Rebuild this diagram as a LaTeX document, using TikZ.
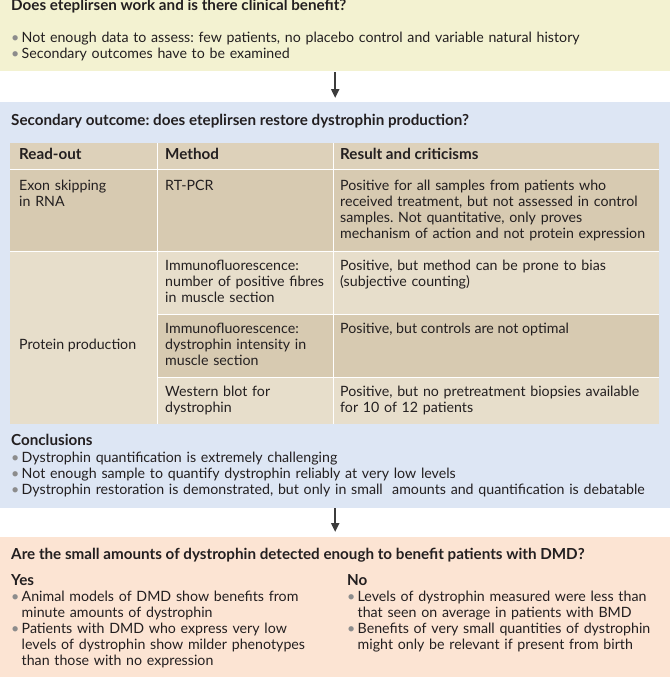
\documentclass[tikz,border=0pt]{standalone}
\usepackage{fontspec}
\setmainfont{Lato}
\usetikzlibrary{positioning,arrows.meta}
\frenchspacing

\definecolor{clinbg}{HTML}{F3F2D1}
\definecolor{dysbg}{HTML}{DDE6F4}
\definecolor{benbg}{HTML}{FCE4D3}
\definecolor{headbg}{HTML}{DDD1BA}
\definecolor{darkrow}{HTML}{D7CAB1}
\definecolor{lightrow}{HTML}{E7DECB}
\definecolor{ink}{HTML}{231F20}
\definecolor{dotgray}{HTML}{8C8C8C}
\definecolor{arrowgray}{HTML}{3C3C3C}

% bullet point with hanging indent, \nl breaks inside a point
\newcommand{\pnt}[1]{\hangindent=10.5pt\hangafter=1\noindent\makebox[10.5pt][l]{\textcolor{dotgray}{\textbullet}}#1\par}
\newcommand{\nl}{\hfil\break}

\tikzset{
  panel/.style={rectangle, anchor=north west, inner sep=0pt, minimum width=670pt},
  cell/.style={rectangle, anchor=north west, inner sep=0pt},
  sep/.style={white, line width=1.2pt},
  txt/.style={anchor=base west, inner sep=0pt, align=left, text=ink, font=\fontsize{14.2}{16}\selectfont},
  hd/.style={txt, font=\fontsize{15.2}{16}\selectfont\bfseries},
  flow/.style={-{Triangle[width=8pt,length=9pt]}, line width=2pt, arrowgray},
}

\begin{document}
\begin{tikzpicture}[x=1pt, y=-1pt]
  \useasboundingbox (0,0) rectangle (670,685);

  % clinical benefit panel
  \node[panel, fill=clinbg, minimum height=71pt] (clin) at (0,0) {};
  \node[hd] (clinq) at (11,11) {Does eteplirsen work and is there clinical benefit?};
  \node[txt, text width=650pt] (clinpts) at (11,43)
    {\pnt{Not enough data to assess: few patients, no placebo control and variable natural history}%
     \pnt{Secondary outcomes have to be examined}};

  % dystrophin panel
  \node[panel, fill=dysbg, minimum height=406pt] (dys) at (0,102) {};
  \node[hd] (dysq) at (11,125) {Secondary outcome: does eteplirsen restore dystrophin production?};

  % table cells
  \node[cell, fill=headbg, minimum width=147pt, minimum height=26pt] (ro) at (10,143) {};
  \node[cell, fill=headbg, minimum width=176pt, minimum height=26pt] (me) at (157,143) {};
  \node[cell, fill=headbg, minimum width=326pt, minimum height=26pt] (rc) at (333,143) {};
  \node[cell, fill=darkrow, minimum width=147pt, minimum height=82pt] (ex) at (10,169) {};
  \node[cell, fill=darkrow, minimum width=176pt, minimum height=82pt] (rt) at (157,169) {};
  \node[cell, fill=darkrow, minimum width=326pt, minimum height=82pt] (rr) at (333,169) {};
  \node[cell, fill=lightrow, minimum width=147pt, minimum height=173pt] (pp) at (10,251) {};
  \node[cell, fill=lightrow, minimum width=176pt, minimum height=63pt] (if1) at (157,251) {};
  \node[cell, fill=lightrow, minimum width=326pt, minimum height=63pt] (ir1) at (333,251) {};
  \node[cell, fill=darkrow, minimum width=176pt, minimum height=63pt] (if2) at (157,314) {};
  \node[cell, fill=darkrow, minimum width=326pt, minimum height=63pt] (ir2) at (333,314) {};
  \node[cell, fill=lightrow, minimum width=176pt, minimum height=47pt] (wb) at (157,377) {};
  \node[cell, fill=lightrow, minimum width=326pt, minimum height=47pt] (wr) at (333,377) {};

  % white rules between cells
  \draw[sep] (ro.south west) -- (rc.south east);
  \draw[sep] (ex.south west) -- (rr.south east);
  \draw[sep] (if1.south west) -- (ir1.south east);
  \draw[sep] (if2.south west) -- (ir2.south east);
  \draw[sep] (ro.north east) -- (pp.south east);
  \draw[sep] (me.north east) -- (wb.south east);

  % table texts
  \node[hd, xshift=9pt, yshift=-16.5pt] at (ro.north west) {Read-out};
  \node[hd, xshift=8pt, yshift=-16.5pt] at (me.north west) {Method};
  \node[hd, xshift=7pt, yshift=-16.5pt] at (rc.north west) {Result and criticisms};
  \node[txt, text width=135pt, xshift=9pt, yshift=-21pt] at (ex.north west) {Exon skipping\\in RNA};
  \node[txt, xshift=8pt, yshift=-21pt] at (rt.north west) {RT-PCR};
  \node[txt, text width=322pt, xshift=7pt, yshift=-21pt] at (rr.north west)
    {Positive for all samples from patients who\\received treatment, but not assessed in control\\samples. Not quantitative, only proves\\mechanism of action and not protein expression};
  \node[txt, xshift=9pt, yshift=-98pt] at (pp.north west) {Protein production};
  \node[txt, text width=172pt, xshift=8pt, yshift=-19pt] at (if1.north west) {Immunofluorescence:\\number of positive fibres\\in muscle section};
  \node[txt, text width=322pt, xshift=7pt, yshift=-19pt] at (ir1.north west) {Positive, but method can be prone to bias\\(subjective counting)};
  \node[txt, text width=172pt, xshift=8pt, yshift=-19pt] at (if2.north west) {Immunofluorescence:\\dystrophin intensity in\\muscle section};
  \node[txt, xshift=7pt, yshift=-19pt] at (ir2.north west) {Positive, but controls are not optimal};
  \node[txt, text width=172pt, xshift=8pt, yshift=-19pt] at (wb.north west) {Western blot for\\dystrophin};
  \node[txt, text width=322pt, xshift=7pt, yshift=-19pt] at (wr.north west) {Positive, but no pretreatment biopsies available\\for 10 of 12 patients};

  % conclusions
  \node[hd] (concl) at (11,445) {Conclusions};
  \node[txt, text width=656pt] (conclpts) at (11,462)
    {\pnt{Dystrophin quantification is extremely challenging}%
     \pnt{Not enough sample to quantify dystrophin reliably at very low levels}%
     \pnt{Dystrophin restoration is demonstrated, but only in small\ \ amounts and quantification is debatable}};

  % benefit panel
  \node[panel, fill=benbg, minimum height=140pt] (ben) at (0,537) {};
  \node[hd] (benq) at (11,559) {Are the small amounts of dystrophin detected enough to benefit patients with DMD?};
  \node[hd] (yes) at (11,585) {Yes};
  \node[hd] (no) at (347,585) {No};
  \node[txt, text width=334pt] (yespts) at (11,601)
    {\pnt{Animal models of DMD show benefits from\nl minute amounts of dystrophin}%
     \pnt{Patients with DMD who express very low\nl levels of dystrophin show milder phenotypes\nl than those with no expression}};
  \node[txt, text width=322pt] (nopts) at (347,601)
    {\pnt{Levels of dystrophin measured were less than\nl that seen on average in patients with BMD}%
     \pnt{Benefits of very small quantities of dystrophin\nl might only be relevant if present from birth}};

  % arrows between panels
  \draw[flow, shorten <=1pt, shorten >=4pt] (clin) -- (dys);
  \draw[flow, shorten >=5pt] (dys) -- (ben);
\end{tikzpicture}
\end{document}
